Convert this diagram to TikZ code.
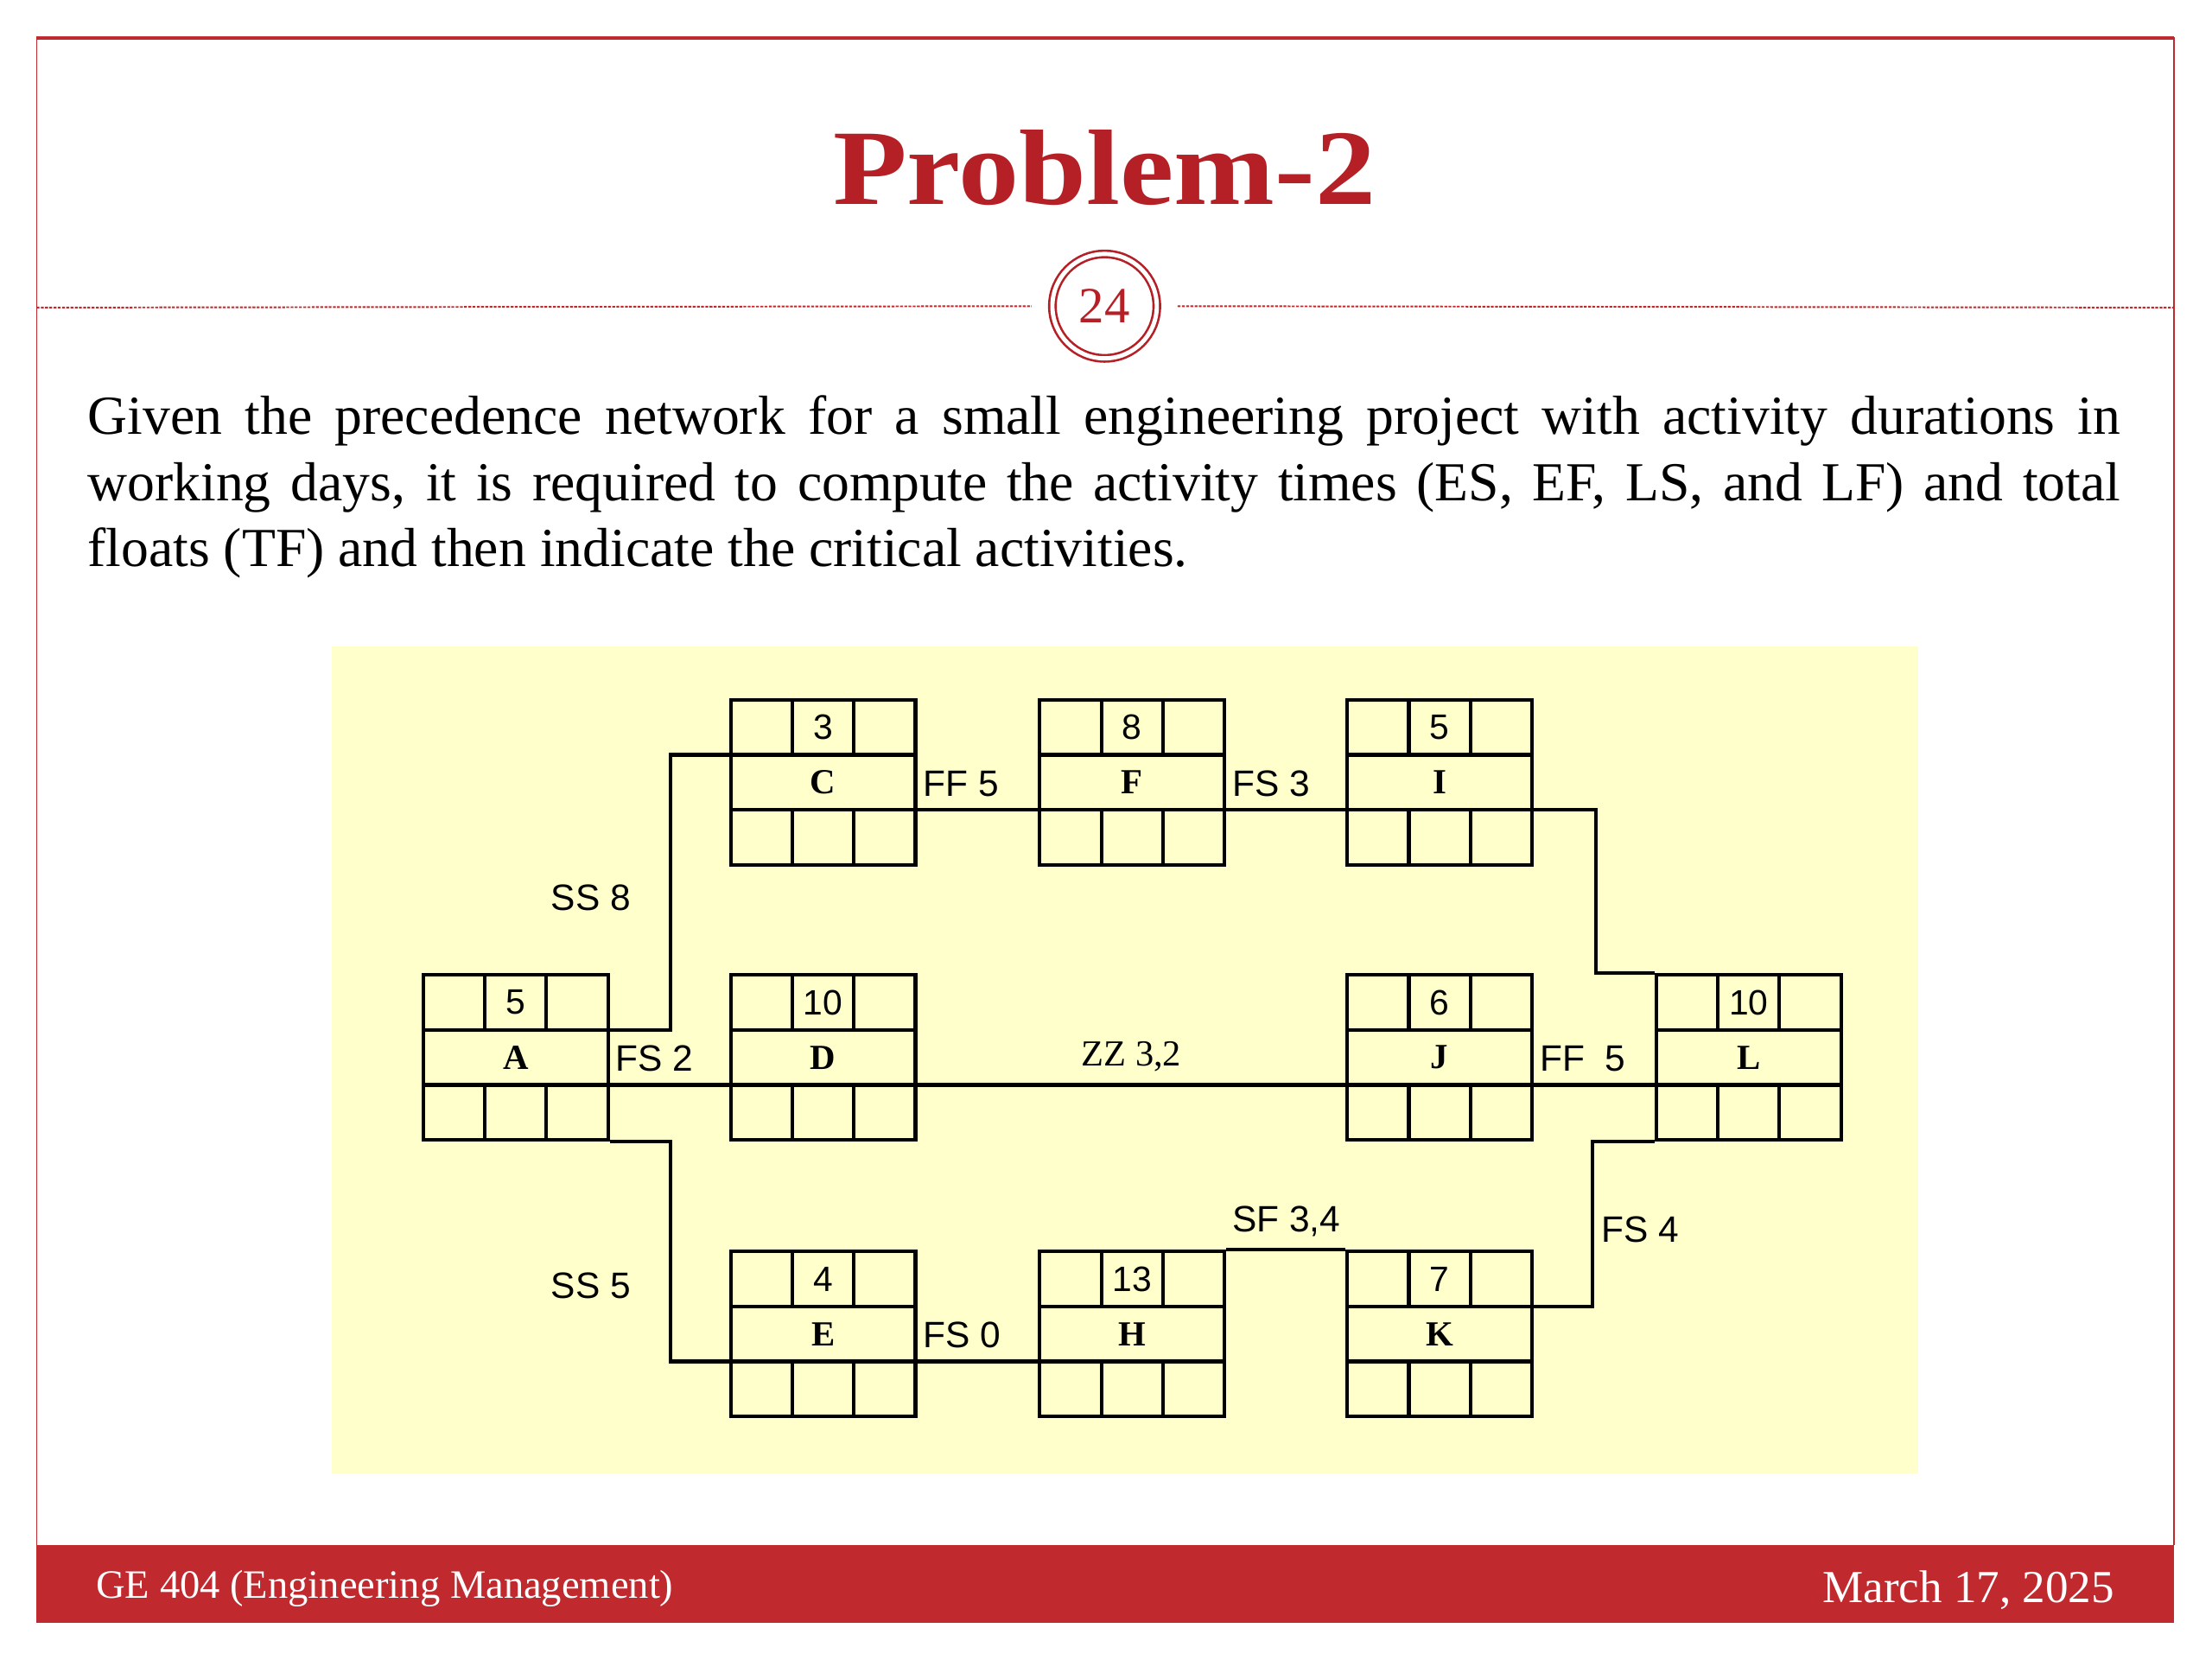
\documentclass[tikz,border=0pt]{standalone}
\usepackage{fontspec}
\usepackage{graphicx}
\setmainfont{Liberation Serif}
\newfontfamily\lagfont{Liberation Sans}
\usetikzlibrary{positioning}

\begin{document}
\begin{tikzpicture}[x=1pt,y=-1pt,
    act/.style={draw,line width=2.6pt,minimum width=131pt,minimum height=117pt,inner sep=0pt,
      font=\bfseries\fontsize{25}{25}\selectfont,
      path picture={
        \draw[line width=2.6pt] ([yshift=19.5pt]path picture bounding box.west) -- ([yshift=19.5pt]path picture bounding box.east)
          ([yshift=-19.5pt]path picture bounding box.west) -- ([yshift=-19.5pt]path picture bounding box.east);
        \foreach \s in {-21.8pt,21.8pt}
          \draw[line width=2.6pt] ([xshift=\s]path picture bounding box.north) -- ++(0pt,-39pt)
            ([xshift=\s]path picture bounding box.south) -- ++(0pt,39pt);
      }},
    dur/.style={font=\lagfont\fontsize{25}{25}\selectfont,inner sep=0pt},
    lag/.style={font=\lagfont\fontsize{26}{26}\selectfont,inner xsep=3pt,inner ysep=8pt},
    lagrm/.style={font=\fontsize{26}{26}\selectfont,inner ysep=8pt},
    conn/.style={line width=2.6pt},
    foot/.style={text=white,inner sep=0pt}]
    \definecolor{slidered}{RGB}{192,41,46}
    \definecolor{titlered}{RGB}{180,32,38}
    \definecolor{panel}{RGB}{255,255,204}
    \useasboundingbox[fill=white] (0,0) rectangle (1568,1176);
    % slide frame and footer
    \draw[slidered,line width=1pt] (26,1095) -- (26,27) -- (1541,27) -- (1541,1095);
    \draw[slidered,line width=2pt] (26,27) -- (1541,27);
    \fill[slidered] (26,1095) rectangle (1541,1150);
    \node[foot,anchor=base west,font=\fontsize{28.5}{28.5}\selectfont] (course) at (68,1133) {GE 404 (Engineering Management)};
    \node[foot,anchor=base east,font=\fontsize{32.5}{32.5}\selectfont] (date) at (1499,1136) {March 17, 2025};
    % title and page number
    \node[text=titlered,font=\bfseries\fontsize{76}{76}\selectfont,inner sep=0pt] (title) at (783,119) {\scalebox{1.13}[1]{Problem-2}};
    \node[circle,draw=titlered,double=white,double distance=3pt,line width=1.6pt,minimum size=74pt,inner sep=0pt,
      text=titlered,font=\fontsize{36}{36}\selectfont] (pgno) at (783,217) {24};
    \draw[slidered,line width=1.2pt,dash pattern=on 2pt off 1pt] (26,218) -- ([xshift=-14pt]pgno.west);
    \draw[slidered,line width=1.2pt,dash pattern=on 2pt off 1pt] ([xshift=14pt]pgno.east) -- (1541,218);
    % problem statement
    \node[anchor=north west,text width=1441pt,align=justify,inner sep=0pt,
      font=\fontsize{39}{47}\selectfont] (task) at (62,280)
      {\hyphenpenalty10000 Given the precedence network for a small engineering project with activity durations in\linebreak
       working days, it is required to compute the activity times (ES, EF, LS, and LF) and total\linebreak
       floats (TF) and then indicate the critical activities.};
    % precedence network
    \fill[panel] (235,458) rectangle (1360,1044);
    \foreach \n/\x/\y/\d in {A/365.5/749.5/5, C/583.5/554.5/3, D/583.5/749.5/10, E/583.5/945.5/4,
      F/802.5/554.5/8, H/802.5/945.5/13, I/1020.5/554.5/5, J/1020.5/749.5/6, K/1020.5/945.5/7, L/1239.5/749.5/10}
    {
      \node[act] (\n) at (\x,\y) {\n};
      \node[dur] (\n-d) at ([yshift=39pt]\n.center) {\d};
    }
    \draw[conn] ([yshift=19.5pt]A.east) -- ++(43pt,0pt) |- node[lag,pos=0.25,left=24pt,yshift=-4pt]{SS 8} ([yshift=19.5pt]C.west);
    \draw[conn] ([yshift=-19.5pt]A.east) -- node[lag,pos=0,anchor=south west]{FS 2} ([yshift=-19.5pt]D.west);
    \draw[conn] (A.south east) -- ++(43pt,0pt) |- node[lag,pos=0.25,left=24pt,yshift=-24pt]{SS 5} ([yshift=-19.5pt]E.west);
    \draw[conn] ([yshift=-19.5pt]C.east) -- node[lag,pos=0,anchor=south west]{FF 5} ([yshift=-19.5pt]F.west);
    \draw[conn] ([yshift=-19.5pt]F.east) -- node[lag,pos=0,anchor=south west]{FS 3} ([yshift=-19.5pt]I.west);
    \draw[conn] ([yshift=-19.5pt]I.east) -- ++(44pt,0pt) |- (L.north west);
    \draw[conn] ([yshift=-19.5pt]D.east) -- node[lagrm,midway,above]{ZZ 3,2} ([yshift=-19.5pt]J.west);
    \draw[conn] ([yshift=-19.5pt]J.east) -- node[lag,pos=0,anchor=south west]{FF\ \ 5} ([yshift=-19.5pt]L.west);
    \draw[conn] (L.south west) -- ++(-44pt,0pt) |- node[lag,pos=0.25,right=2pt,yshift=-4pt]{FS 4} ([yshift=19.5pt]K.east);
    \draw[conn] ([yshift=-19.5pt]E.east) -- node[lag,pos=0,anchor=south west]{FS 0} ([yshift=-19.5pt]H.west);
    \draw[conn] (H.north east) -- node[lag,pos=0,anchor=south west]{SF 3,4} (K.north west);
\end{tikzpicture}
\end{document}
